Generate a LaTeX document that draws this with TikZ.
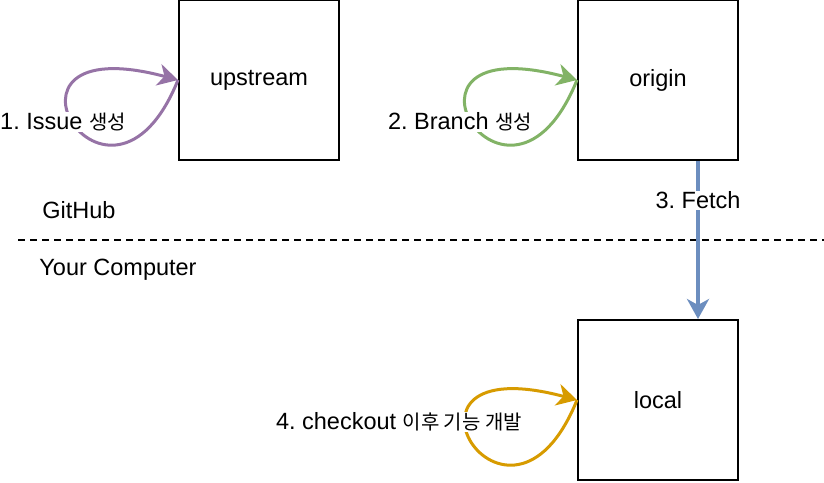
\documentclass[tikz,border=0pt]{standalone}
\usepackage{fontspec}
\setmainfont{Liberation Sans}
\newfontfamily\kr[Scale=0.85]{Noto Sans CJK KR}
\usetikzlibrary{positioning,arrows.meta}
\definecolor{purp}{HTML}{9673A6}
\definecolor{grn}{HTML}{82B366}
\definecolor{blu}{HTML}{6C8EBF}
\definecolor{orng}{HTML}{D79B00}
\frenchspacing
\begin{document}
\begin{tikzpicture}[x=1pt,y=1pt,
    every node/.style={font=\fontsize{23.5pt}{28pt}\selectfont},
    box/.style={draw,line width=2pt,minimum size=160pt,inner sep=0pt},
    lbl/.style={fill=white,inner sep=1pt},
    tip/.style={-{Stealth[length=20pt,width=22pt,inset=6pt]}},
    loopy/.style={tip,line width=3pt,out=-112,in=165,out distance=185pt,in distance=215pt}]
    \useasboundingbox (0,0) rectangle (824,482);
    \node (upstream) [box] at (259,402) {upstream};
    \node (origin) [box,right=237pt of upstream] {origin};
    \node (local) [box,below=158pt of origin] {local};
    \coordinate (l) at (18,242);
    \coordinate (r) at (824,242);
    \draw[line width=2pt,dash pattern=on 7pt off 5pt] (l) -- (r);
    \draw[loopy,purp] (upstream.west) to (upstream.west);
    \draw[loopy,grn] (origin.west) to (origin.west);
    \draw[loopy,orng] (local.west) to (local.west);
    \draw[tip,blu,line width=3.5pt] ([xshift=40pt]origin.south) -- node (fetch) [lbl,pos=0.25,text=black] {3. Fetch} ([xshift=40pt]local.north);
    \node (issue) [lbl] at (63,360) {1. Issue {\kr 생성}};
    \node (branch) [lbl] at (460,360) {2. Branch {\kr 생성}};
    \node (dev) [lbl] at (399,60) {4. checkout {\kr 이후 기능 개발}};
    \node (github) at (79,272) {GitHub};
    \node (computer) at (118,212) {Your Computer};
\end{tikzpicture}
\end{document}
